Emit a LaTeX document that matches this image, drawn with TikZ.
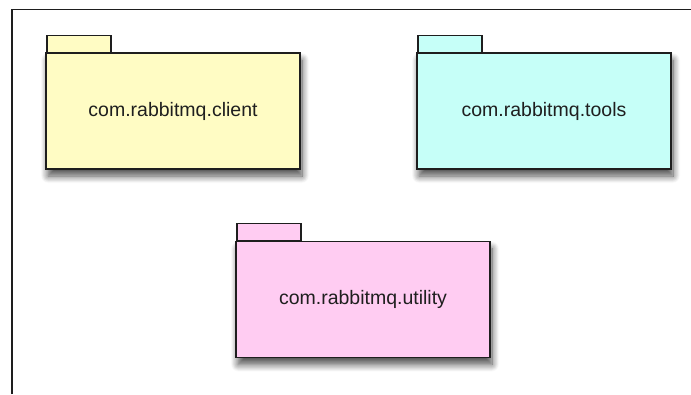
\documentclass[tikz,border=0pt]{standalone}
\usepackage{fontspec}
\setmainfont{Liberation Sans}
\usetikzlibrary{shadows.blur}
\definecolor{pkgyellow}{RGB}{255,252,196}
\definecolor{pkgcyan}{RGB}{198,255,248}
\definecolor{pkgpink}{RGB}{255,204,242}
\definecolor{pkgline}{RGB}{30,30,30}
\begin{document}
\begin{tikzpicture}[x=1pt,y=1pt,
  pkgbody/.style={draw=pkgline, line width=1.5pt, minimum width=254pt, minimum height=116pt,
    inner sep=0pt, font=\fontsize{19.5}{23}\selectfont, text=black!88,
    blur shadow={shadow xshift=2pt, shadow yshift=-7pt, shadow blur steps=10, shadow blur radius=7pt, shadow opacity=70}},
  pkgtab/.style={draw=pkgline, line width=1.5pt, minimum width=64pt, minimum height=17pt,
    inner sep=0pt, anchor=south west}]
\useasboundingbox (0,0) rectangle (691,-394);
\draw[line width=1.5pt, pkgline] (12,-394) -- (12,-9.5) -- (691,-9.5);
% client
\node[pkgtab, fill=pkgyellow] (clienttab) at (46,-53) {};
\node[pkgbody, fill=pkgyellow] (client) at (173,-111) {com.rabbitmq.client};
% tools
\node[pkgtab, fill=pkgcyan] (toolstab) at (417,-53) {};
\node[pkgbody, fill=pkgcyan] (tools) at (544,-111) {com.rabbitmq.tools};
% utility
\node[pkgtab, fill=pkgpink] (utiltab) at (236,-241) {};
\node[pkgbody, fill=pkgpink] (utility) at (363,-299.5) {com.rabbitmq.utility};
\end{tikzpicture}
\end{document}
